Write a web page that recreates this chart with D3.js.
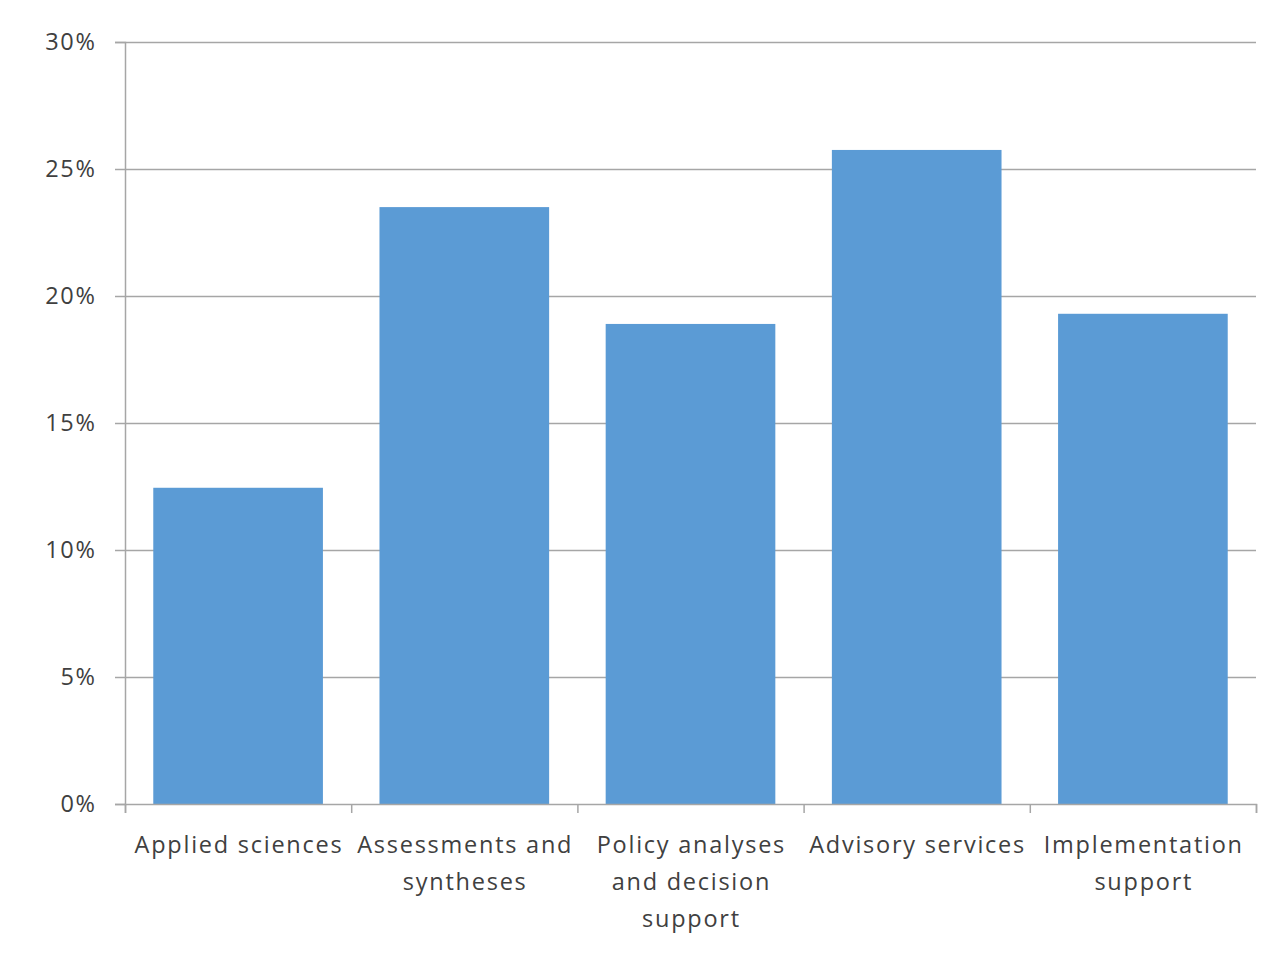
<!DOCTYPE html>
<html><head><meta charset="utf-8">
<script src="https://cdn.jsdelivr.net/npm/d3@7"></script>
<style>body{margin:0;background:#fff}</style>
</head><body><svg id="c" width="1274" height="955"></svg>
<script>
const categories = [["Applied sciences"],["Assessments and","syntheses"],["Policy analyses","and decision","support"],["Advisory services"],["Implementation","support"]];
const values = [12.45, 23.5, 18.9, 25.75, 19.3];
const yTicks = [0,5,10,15,20,25,30];

const svg = d3.select("#c");
const m = {l:125, r:1256, t:42, b:804};
const x = d3.scaleBand().domain(d3.range(categories.length)).range([m.l, m.r]).paddingInner(0.25).paddingOuter(0.125);
const y = d3.scaleLinear().domain([0,30]).range([m.b, m.t]);
const font = "'Open Sans', sans-serif";
const grid = "#a6a6a6";
const fs = 23.5, ls = "1.75px";

svg.append("g").selectAll("line").data(yTicks.filter(d=>d>0)).join("line")
  .attr("x1", m.l).attr("x2", m.r).attr("y1", d=>y(d)+0.5).attr("y2", d=>y(d)+0.5)
  .attr("stroke", grid).attr("stroke-width", 1.5);

svg.append("g").selectAll("rect").data(values).join("rect")
  .attr("x", (d,i)=>x(i)).attr("width", x.bandwidth())
  .attr("y", d=>y(d)).attr("height", d=>y(0)-y(d))
  .attr("fill", "#5b9bd5");

const ya = svg.append("g").attr("transform", `translate(${m.l},0)`)
  .call(d3.axisLeft(y).tickValues(yTicks).tickSize(10).tickPadding(20).tickFormat(d=>d+"%"));
ya.select(".domain").attr("stroke", grid).attr("stroke-width", 1.5);
ya.selectAll(".tick line").attr("stroke", grid).attr("stroke-width", 1.5);
ya.selectAll(".tick text").attr("font-family", font).attr("font-size", fs).attr("letter-spacing", ls).attr("fill", "#404040").attr("dx", 1.75);

const xb = d3.scaleLinear().domain([0, categories.length]).range([m.l, m.r]);
const xa = svg.append("g").attr("transform", `translate(0,${m.b})`)
  .call(d3.axisBottom(xb).tickValues(d3.range(categories.length+1)).tickSize(9).tickFormat(""));
xa.select(".domain").attr("stroke", grid).attr("stroke-width", 1.5);
xa.selectAll(".tick line").attr("stroke", grid).attr("stroke-width", 1.5);

const lg = svg.append("g");
categories.forEach((lines,i)=>{
  const cx = x(i)+x.bandwidth()/2 + 0.9;
  const t = lg.append("text").attr("x", cx).attr("y", 853)
    .attr("text-anchor","middle").attr("font-family", font).attr("font-size", fs).attr("letter-spacing", ls).attr("fill","#404040");
  lines.forEach((s,j)=>t.append("tspan").attr("x", cx).attr("dy", j===0?0:37).text(s));
});
</script></body></html>
